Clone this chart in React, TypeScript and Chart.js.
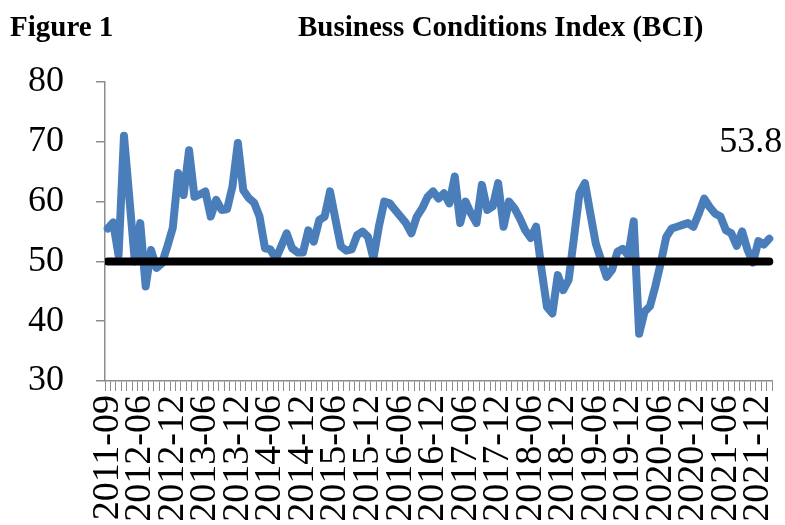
import React, { useEffect, useRef } from "react";
import { Chart, registerables } from "chart.js";

Chart.register(...registerables);

// ---- Data ----
const FIRST_MONTHS = ["2011-09", "2011-10", "2011-11", "2011-12", "2012-02", "2012-04"];
const MONTHLY_START = "2012-06";
const MONTHLY_END = "2022-02";

function monthRange(start: string, end: string): string[] {
  const out: string[] = [];
  let [y, m] = start.split("-").map(Number);
  const [ey, em] = end.split("-").map(Number);
  while (y < ey || (y === ey && m <= em)) {
    out.push(`${y}-${String(m).padStart(2, "0")}`);
    m += 1;
    if (m > 12) { m = 1; y += 1; }
  }
  return out;
}

const CATEGORIES: string[] = [...FIRST_MONTHS, ...monthRange(MONTHLY_START, MONTHLY_END)];

const BCI_VALUES: number[] = [
  55.5, 56.5, 51.0, 71.0, 60.5, 50.0, 56.4, 45.8, 51.9, 48.9,
  49.7, 52.5, 55.6, 64.8, 61.1, 68.6, 60.8, 61.2, 61.7, 57.5,
  60.3, 58.6, 58.7, 62.5, 69.8, 61.9, 60.6, 59.8, 57.5, 52.2,
  52.0, 50.4, 52.5, 54.7, 52.2, 51.5, 51.5, 55.2, 53.3, 56.9,
  57.5, 61.7, 57.0, 52.5, 51.8, 52.0, 54.4, 55.0, 54.1, 50.5,
  55.8, 60.0, 59.7, 58.6, 57.5, 56.4, 54.7, 57.5, 58.9, 60.8,
  61.7, 60.5, 61.4, 59.7, 64.2, 56.4, 60.0, 58.0, 56.4, 62.8,
  58.6, 59.2, 63.1, 55.8, 60.0, 58.9, 57.2, 55.2, 53.9, 55.8,
  48.6, 42.4, 41.3, 47.7, 45.2, 46.9, 54.1, 61.4, 63.1, 58.0,
  53.0, 50.2, 47.4, 48.6, 51.6, 52.1, 51.0, 56.7, 37.9, 41.6,
  42.5, 45.9, 49.8, 54.1, 55.5, 55.8, 56.1, 56.4, 55.8, 58.0,
  60.5, 59.1, 58.0, 57.5, 55.2, 54.7, 52.6, 55.0, 51.9, 49.8,
  53.4, 52.8, 53.8,
];

const THRESHOLD = 50;
const LAST_VALUE_LABEL = "53.8";
const Y_TICKS = [30, 40, 50, 60, 70, 80];
const LABEL_EVERY = 6;
const FIGURE_LABEL = "Figure 1";
const CHART_TITLE = "Business Conditions Index (BCI)";

const SERIF = "'Liberation Serif', 'Times New Roman', serif";
const AXIS_GRAY = "#8c8c8c";
const LINE_BLUE = "#4A7EBB";

const overlayPlugin = {
  id: "overlay",
  afterDatasetsDraw(chart: any) {
    const { ctx, chartArea, scales } = chart;
    const pts = chart.getDatasetMeta(0).data;
    if (!pts.length) return;
    const y = scales.y.getPixelForValue(THRESHOLD);
    ctx.save();
    ctx.beginPath();
    ctx.rect(chartArea.left, 0, chart.width - chartArea.left, chart.height);
    ctx.clip();
    ctx.strokeStyle = "#000000";
    ctx.lineWidth = 8;
    ctx.lineCap = "round";
    ctx.beginPath();
    ctx.moveTo(pts[0].x, y);
    ctx.lineTo(pts[pts.length - 1].x, y);
    ctx.stroke();
    ctx.restore();
  },
  afterDraw(chart: any) {
    const { ctx } = chart;
    const pts = chart.getDatasetMeta(0).data;
    ctx.save();
    ctx.fillStyle = "#000000";
    ctx.textBaseline = "alphabetic";
    ctx.font = `bold 29px ${SERIF}`;
    ctx.textAlign = "left";
    ctx.fillText(FIGURE_LABEL, 10, 36);
    ctx.fillText(CHART_TITLE, 298, 36);
    if (pts.length) {
      const last = pts[pts.length - 1];
      ctx.font = `36px ${SERIF}`;
      ctx.textAlign = "right";
      ctx.fillText(LAST_VALUE_LABEL, last.x + 13, last.y - 87);
    }
    ctx.restore();
  },
};

export default function App() {
  const canvasRef = useRef<HTMLCanvasElement | null>(null);

  useEffect(() => {
    document.body.style.margin = "0";
    const canvas = canvasRef.current;
    if (!canvas) return;
    const chart = new Chart(canvas, {
      type: "line",
      data: {
        labels: CATEGORIES,
        datasets: [
          {
            label: "BCI",
            data: BCI_VALUES,
            borderColor: LINE_BLUE,
            backgroundColor: LINE_BLUE,
            borderWidth: 8,
            pointRadius: 0,
            pointHoverRadius: 0,
            tension: 0,
            borderJoinStyle: "round",
            borderCapStyle: "round",
            fill: false,
          },
        ],
      },
      options: {
        responsive: false,
        animation: false,
        devicePixelRatio: 1,
        events: [],
        layout: { padding: { top: 82, right: 13, left: 0, bottom: 0 } },
        plugins: {
          legend: { display: false },
          title: { display: false },
          tooltip: { enabled: false },
        },
        scales: {
          x: {
            type: "category",
            offset: true,
            grid: {
              offset: true,
              drawOnChartArea: false,
              drawTicks: true,
              tickLength: 10,
              color: AXIS_GRAY,
              lineWidth: 1,
            },
            border: { display: true, color: AXIS_GRAY, width: 1.5 },
            ticks: {
              autoSkip: false,
              minRotation: 90,
              maxRotation: 90,
              padding: 4,
              color: "#000000",
              font: { family: SERIF, size: 38 },
              callback: (_v: any, index: number) =>
                index % LABEL_EVERY === 0 ? CATEGORIES[index] : "",
            },
            afterFit: (scale: any) => {
              scale.height = 144;
              scale.paddingLeft = 0;
              scale.paddingRight = 0;
            },
          },
          y: {
            min: 30,
            max: 80,
            grid: {
              drawOnChartArea: false,
              drawTicks: true,
              tickLength: 9,
              color: AXIS_GRAY,
              lineWidth: 1.5,
            },
            border: { display: true, color: AXIS_GRAY, width: 1.5 },
            ticks: {
              padding: 32,
              color: "#000000",
              font: { family: SERIF, size: 36 },
            },
            afterBuildTicks: (scale: any) => {
              scale.ticks = Y_TICKS.map((v) => ({ value: v }));
            },
            afterFit: (scale: any) => {
              scale.width = 105;
              scale.paddingTop = 0;
              scale.paddingBottom = 0;
            },
          },
        },
      },
      plugins: [overlayPlugin],
    });
    return () => chart.destroy();
  }, []);

  return (
    <div style={{ position: "fixed", left: 0, top: 0, width: 785, height: 525, overflow: "hidden", background: "#ffffff" }}>
      <canvas ref={canvasRef} width={785} height={525} style={{ display: "block", width: 785, height: 525 }} />
    </div>
  );
}
